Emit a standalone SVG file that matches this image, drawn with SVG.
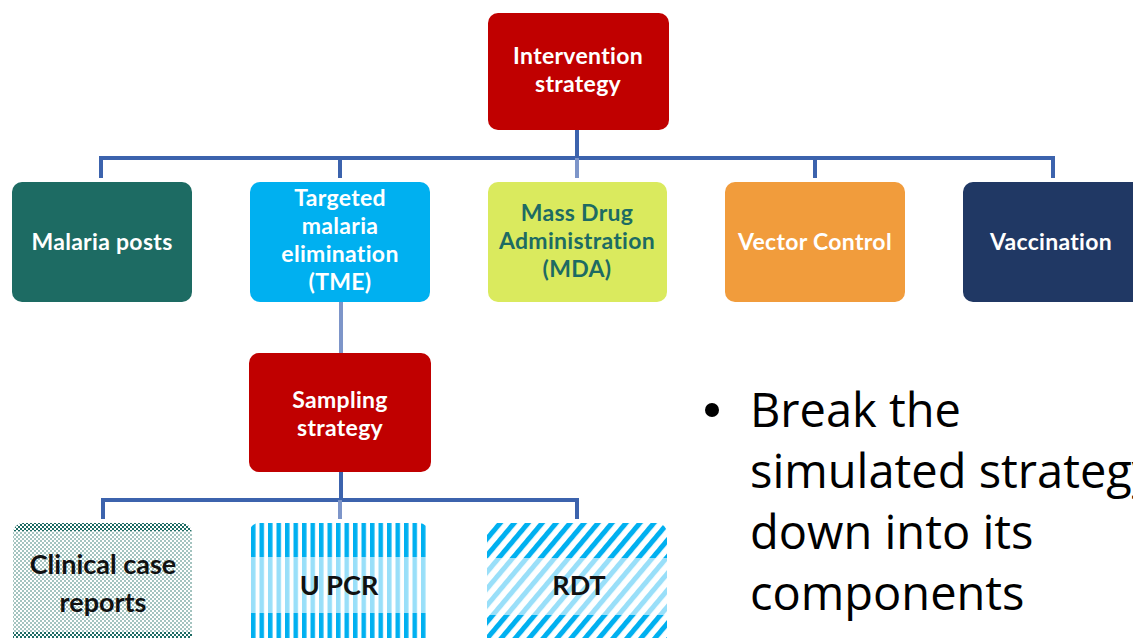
<svg xmlns="http://www.w3.org/2000/svg" width="1133" height="638" viewBox="0 0 1133 638">
  <style>
    .lbl { font-family: Lato, "Open Sans", "Liberation Sans", sans-serif; font-weight: 700; font-size: 23px; letter-spacing: 0.3px; text-anchor: middle; fill: #ffffff; }
    .dark { fill: #1d6b63; }
    .blk { fill: #111111; font-size: 27px; letter-spacing: 0; }
    .bullet { font-family: "Open Sans", "Liberation Sans", sans-serif; font-size: 47px; fill: #000000; }
    .wire { fill: none; stroke: #3c63ad; stroke-width: 4; }
    .wire-soft { fill: none; stroke: #7d95c9; stroke-width: 4; }
    .veil { fill: #ffffff; fill-opacity: 0.6; }
  </style>
  <defs>
    <!-- fine checkerboard fill -->
    <pattern id="checks" x="0" y="0" width="4" height="4" patternUnits="userSpaceOnUse">
      <rect width="4" height="4" fill="#ffffff"/>
      <rect width="2" height="2" fill="#1d6b63"/>
      <rect x="2" y="2" width="2" height="2" fill="#1d6b63"/>
    </pattern>
    <!-- vertical bars -->
    <pattern id="vbars" x="251" y="0" width="8.5" height="10" patternUnits="userSpaceOnUse">
      <rect width="8.5" height="10" fill="#ffffff"/>
      <rect width="4.5" height="10" fill="#00b0f0"/>
    </pattern>
    <!-- diagonal bars -->
    <pattern id="dbars" x="0" y="0" width="10.7" height="10" patternUnits="userSpaceOnUse" patternTransform="rotate(40)">
      <rect width="10.7" height="10" fill="#ffffff"/>
      <rect width="5" height="10" fill="#00b0f0"/>
    </pattern>
  </defs>

  <rect width="1133" height="638" fill="#ffffff"/>

  <!-- connectors -->
  <g id="connectors">
    <path class="wire" d="M577 130 V158"/>
    <path class="wire" d="M101 178 V158 H1053 V178"/>
    <path class="wire" d="M340 158 V178"/>
    <path class="wire-soft" d="M577 158 V178"/>
    <path class="wire" d="M815 158 V178"/>
    <path class="wire-soft" d="M341 302 V353"/>
    <path class="wire" d="M341 472 V500"/>
    <path class="wire" d="M103 519 V500 H577 V519"/>
    <path class="wire-soft" d="M340 500 V519"/>
  </g>

  <g id="intervention">
    <rect x="488" y="13" width="181" height="117" rx="10" fill="#c00000"/>
    <text class="lbl" x="578" y="64">Intervention</text>
    <text class="lbl" x="578" y="92">strategy</text>
  </g>

  <g id="malaria-posts">
    <rect x="12" y="182" width="180" height="120" rx="10" fill="#1d6b63"/>
    <text class="lbl" x="102" y="250">Malaria posts</text>
  </g>

  <g id="tme">
    <rect x="250" y="182" width="180" height="120" rx="10" fill="#00b0f0"/>
    <text class="lbl" x="340" y="206">Targeted</text>
    <text class="lbl" x="340" y="234">malaria</text>
    <text class="lbl" x="340" y="262">elimination</text>
    <text class="lbl" x="340" y="290">(TME)</text>
  </g>

  <g id="mda">
    <rect x="488" y="182" width="179" height="120" rx="10" fill="#daea5e"/>
    <text class="lbl dark" x="577" y="221">Mass Drug</text>
    <text class="lbl dark" x="577" y="249">Administration</text>
    <text class="lbl dark" x="577" y="277">(MDA)</text>
  </g>

  <g id="vector-control">
    <rect x="725" y="182" width="180" height="120" rx="10" fill="#f19c3c"/>
    <text class="lbl" x="815" y="250">Vector Control</text>
  </g>

  <g id="vaccination">
    <rect x="963" y="182" width="180" height="120" rx="10" fill="#203864"/>
    <text class="lbl" x="1051" y="250">Vaccination</text>
  </g>

  <g id="sampling">
    <rect x="249" y="353" width="182" height="119" rx="10" fill="#c00000"/>
    <text class="lbl" x="340" y="408">Sampling</text>
    <text class="lbl" x="340" y="436">strategy</text>
  </g>

  <g id="clinical-case-reports">
    <rect x="13" y="523" width="179" height="140" rx="10" fill="url(#checks)"/>
    <rect class="veil" x="13" y="531" width="179" height="101"/>
    <text class="lbl blk" x="103" y="574">Clinical case</text>
    <text class="lbl blk" x="103" y="612">reports</text>
  </g>

  <g id="u-pcr">
    <rect x="249" y="523" width="180" height="140" rx="10" fill="url(#vbars)"/>
    <rect class="veil" x="249" y="557" width="180" height="56"/>
    <text class="lbl blk" x="339" y="595">U PCR</text>
  </g>

  <g id="rdt">
    <rect x="487" y="523" width="180" height="140" rx="10" fill="url(#dbars)"/>
    <rect class="veil" x="487" y="558" width="180" height="57"/>
    <text class="lbl blk" x="579" y="595">RDT</text>
  </g>

  <!-- bullet text -->
  <g id="bullet-note">
    <circle cx="712" cy="410" r="7" fill="#000000"/>
    <text class="bullet" x="750" y="427">Break the</text>
    <text class="bullet" x="750" y="488">simulated strategy</text>
    <text class="bullet" x="750" y="549">down into its</text>
    <text class="bullet" x="750" y="610">components</text>
  </g>
</svg>
